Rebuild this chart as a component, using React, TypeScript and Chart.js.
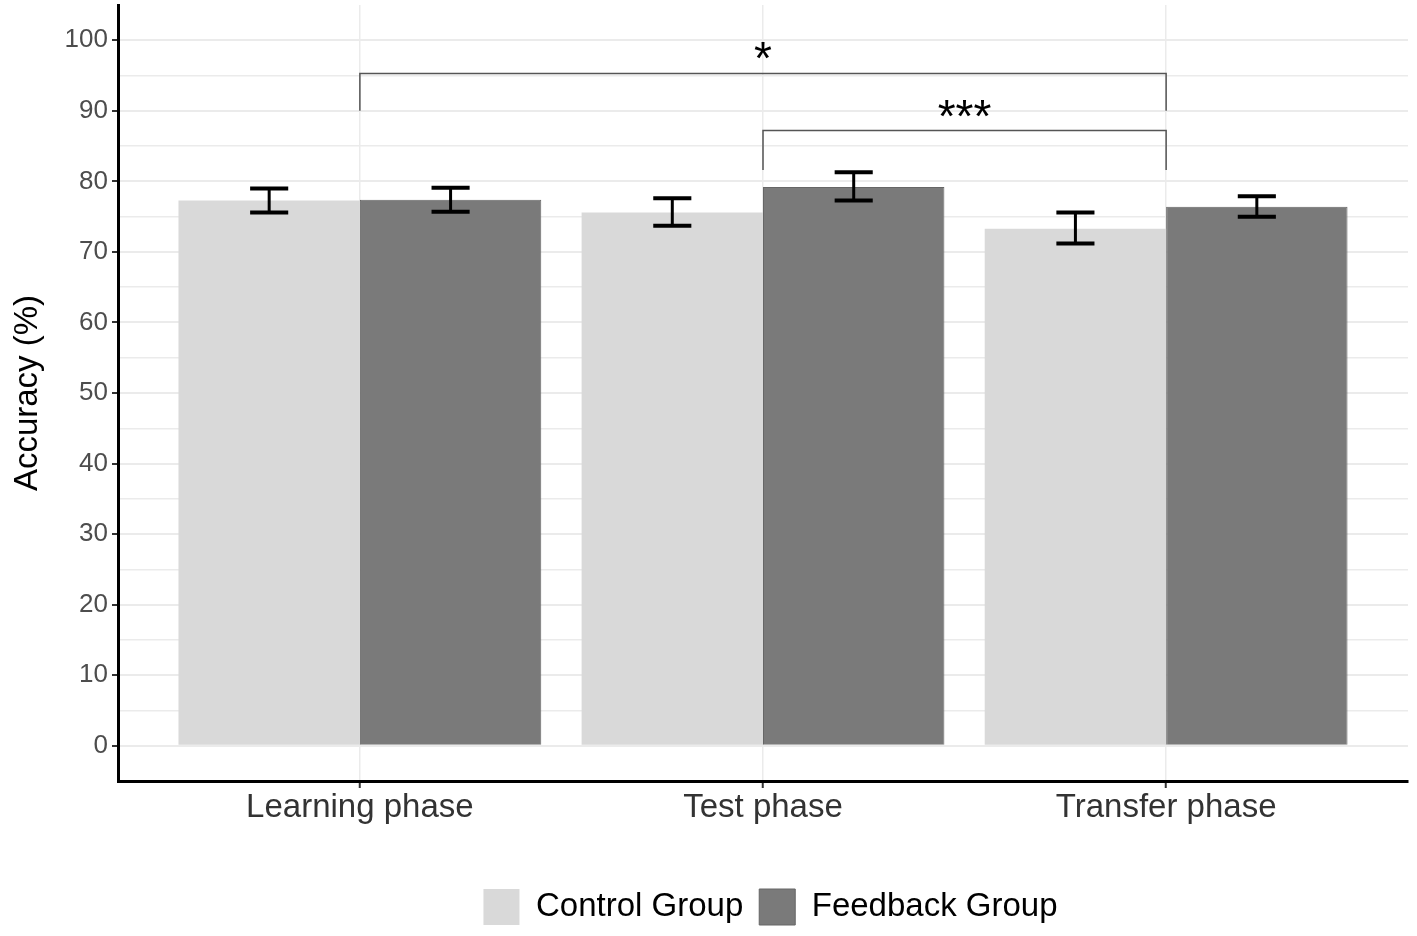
import { useEffect, useRef } from "react"
import { Chart, registerables } from "chart.js"

Chart.register(...registerables)

// Accuracy (%) per phase
const phases = ["Learning phase", "Test phase", "Transfer phase"]
const controlMeans = [77.3, 75.6, 73.3]
const controlLow = [75.6, 73.7, 71.2]
const controlHigh = [79.0, 77.6, 75.6]
const feedbackMeans = [77.4, 79.2, 76.4]
const feedbackLow = [75.7, 77.3, 75.0]
const feedbackHigh = [79.1, 81.3, 77.9]

// significance brackets: [from phase, to phase, top, leg bottom, label]
const brackets: [number, number, number, number, string][] = [
  [1, 3, 95.3, 90.0, "*"],
  [2, 3, 87.2, 81.6, "***"],
]

const yTicks = [0, 5, 10, 15, 20, 25, 30, 35, 40, 45, 50, 55, 60, 65, 70, 75, 80, 85, 90, 95, 100]

const FONT = "'Liberation Sans', Arial, sans-serif"

const errorBars = {
  id: "errorBars",
  afterDatasetsDraw(chart: Chart) {
    const ctx = chart.ctx
    const y = chart.scales.y
    const lows = [controlLow, feedbackLow]
    const highs = [controlHigh, feedbackHigh]
    ctx.save()
    ctx.strokeStyle = "#000"
    chart.data.datasets.forEach((_, d) => {
      const meta = chart.getDatasetMeta(d)
      meta.data.forEach((bar: any, i: number) => {
        const cx = bar.x
        const half = bar.width * 0.105
        const top = y.getPixelForValue(highs[d][i])
        const bottom = y.getPixelForValue(lows[d][i])
        ctx.lineWidth = 3
        ctx.beginPath()
        ctx.moveTo(cx, top)
        ctx.lineTo(cx, bottom)
        ctx.stroke()
        ctx.lineWidth = 4
        ctx.beginPath()
        ctx.moveTo(cx - half, top)
        ctx.lineTo(cx + half, top)
        ctx.moveTo(cx - half, bottom)
        ctx.lineTo(cx + half, bottom)
        ctx.stroke()
      })
    })
    ctx.restore()
  },
}

const sigBrackets = {
  id: "sigBrackets",
  afterDatasetsDraw(chart: Chart) {
    const ctx = chart.ctx
    const x = chart.scales.x
    const y = chart.scales.y
    ctx.save()
    ctx.strokeStyle = "#555"
    ctx.lineWidth = 1.5
    ctx.fillStyle = "#000"
    ctx.font = `46px ${FONT}`
    ctx.textAlign = "center"
    ctx.textBaseline = "alphabetic"
    brackets.forEach(([a, b, top, leg, label]) => {
      const x1 = x.getPixelForValue(a)
      const x2 = x.getPixelForValue(b)
      const yt = y.getPixelForValue(top)
      const yl = y.getPixelForValue(leg)
      ctx.beginPath()
      ctx.moveTo(x1, yl)
      ctx.lineTo(x1, yt)
      ctx.lineTo(x2, yt)
      ctx.lineTo(x2, yl)
      ctx.stroke()
      ctx.fillText(label, (x1 + x2) / 2, yt + 1)
    })
    ctx.restore()
  },
}

// centre the bottom legend under the plot area rather than the whole canvas
const legendShift = {
  id: "legendShift",
  afterLayout(chart: Chart) {
    const lg: any = chart.legend
    if (!lg) return
    const shift = (chart.chartArea.left + chart.chartArea.right) / 2 - chart.width / 2 + 12
    lg.left += shift
    lg.right += shift
    if (lg.legendHitBoxes) lg.legendHitBoxes.forEach((h: any) => (h.left += shift))
  },
}

export default function App() {
  const chartRef = useRef<HTMLCanvasElement>(null)
  const chartInstance = useRef<Chart | null>(null)

  useEffect(() => {
    if (!chartRef.current) return
    document.body.style.margin = "0"

    if (chartInstance.current) {
      chartInstance.current.destroy()
    }

    const ctx = chartRef.current.getContext("2d")
    if (!ctx) return

    chartInstance.current = new Chart(ctx, {
      type: "bar",
      data: {
        datasets: [
          {
            label: "Control Group",
            data: phases.map((_, i) => ({ x: i + 1, y: controlMeans[i] })),
            backgroundColor: "#d9d9d9",
            borderColor: "#d9d9d9",
            borderWidth: 0,
            categoryPercentage: 0.9,
            barPercentage: 1,
          },
          {
            label: "Feedback Group",
            data: phases.map((_, i) => ({ x: i + 1, y: feedbackMeans[i] })),
            backgroundColor: "#7a7a7a",
            borderColor: "#666",
            borderWidth: 1,
            categoryPercentage: 0.9,
            barPercentage: 1,
          },
        ],
      },
      options: {
        responsive: true,
        maintainAspectRatio: false,
        animation: false,
        layout: { padding: { top: 5, right: 9, left: 0, bottom: 1 } },
        scales: {
          x: {
            type: "linear",
            min: 0.4,
            max: 3.6,
            offset: false,
            afterBuildTicks: (scale: any) => {
              scale.ticks = phases.map((_, i) => ({ value: i + 1 }))
            },
            afterFit: (scale: any) => {
              scale.height = 92
            },
            grid: {
              offset: false,
              color: "#ebebeb",
              lineWidth: 1.5,
              tickColor: "#333",
              tickLength: 7,
              tickWidth: 2,
            },
            border: { color: "#000", width: 3 },
            ticks: {
              font: { family: FONT, size: 33 },
              color: "#333",
              padding: 0,
              maxRotation: 0,
              callback: (v: any) => phases[Number(v) - 1] ?? "",
            },
          },
          y: {
            min: -5,
            max: 105,
            afterBuildTicks: (scale: any) => {
              scale.ticks = yTicks.map((v) => ({ value: v }))
            },
            afterFit: (scale: any) => {
              scale.width = 118
              scale.paddingTop = 0
              scale.paddingBottom = 0
            },
            grid: {
              color: "#ebebeb",
              lineWidth: (c: any) => (c.tick && c.tick.value % 10 === 0 ? 2 : 1.5),
              tickColor: (c: any) => (c.tick && c.tick.value % 10 === 0 ? "#333" : "rgba(0,0,0,0)"),
              tickLength: 6,
              tickWidth: 2,
            },
            border: { color: "#000", width: 3 },
            ticks: {
              font: { family: FONT, size: 26 },
              color: "#4d4d4d",
              padding: 4,
              autoSkip: false,
              callback: (v: any) => (Number(v) % 10 === 0 ? String(v) : ""),
            },
            title: {
              display: true,
              text: "Accuracy (%)",
              font: { family: FONT, size: 33 },
              color: "#000",
              padding: { top: 8, bottom: 0 },
            },
          },
        },
        plugins: {
          legend: {
            position: "bottom",
            labels: {
              boxWidth: 36,
              boxHeight: 36,
              padding: 16,
              color: "#000",
              font: { family: FONT, size: 33 },
            },
          },
          tooltip: { enabled: false },
        },
      },
      plugins: [errorBars, sigBrackets, legendShift],
    })

    return () => {
      if (chartInstance.current) {
        chartInstance.current.destroy()
        chartInstance.current = null
      }
    }
  }, [])

  return (
    <div style={{ width: 1417, height: 936, position: "relative" }}>
      <canvas ref={chartRef} />
    </div>
  )
}
